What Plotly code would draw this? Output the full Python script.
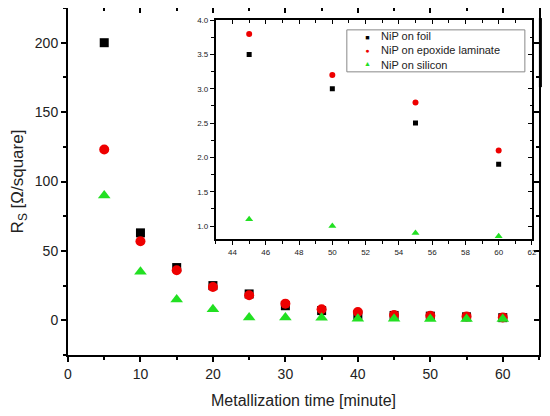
import plotly.graph_objects as go

# metallization time [minute]
time_main = [5, 10, 15, 20, 25, 30, 35, 40, 45, 50, 55, 60]
foil_main = [200, 63, 38, 25, 19, 10.5, 7, 3.8, 3.5, 3.0, 2.5, 1.9]
epoxide_main = [123, 57, 36, 24, 18, 12, 8, 6, 3.8, 3.2, 2.8, 2.1]
silicon_main = [90, 35, 15, 8, 2, 2, 1.8, 1.2, 1.1, 1.0, 0.9, 0.85]

# zoomed inset values
time_inset = [45, 50, 55, 60]
foil_inset = [3.5, 3.0, 2.5, 1.9]
epoxide_inset = [3.8, 3.2, 2.8, 2.1]
silicon_inset = [1.1, 1.0, 0.9, 0.85]

names = ["NiP on foil", "NiP on epoxide laminate", "NiP on silicon"]
colors = ["#000000", "#ee0000", "#22e022"]
symbols = ["square", "circle", "triangle-up"]
legend_glyphs = ["■", "●", "▲"]

fig = go.Figure()

main_series = [foil_main, epoxide_main, silicon_main]
for vals, name, col, sym, sz in zip(main_series, names, colors, symbols, [9, 10, 11]):
    fig.add_trace(go.Scatter(
        x=time_main, y=vals, mode="markers", name=name, showlegend=False,
        marker=dict(symbol=sym, color=col, size=sz),
        xaxis="x", yaxis="y"
    ))

inset_series = [foil_inset, epoxide_inset, silicon_inset]
for vals, name, col, sym, sz in zip(inset_series, names, colors, symbols, [5, 6, 7]):
    fig.add_trace(go.Scatter(
        x=time_inset, y=vals, mode="markers", name=name, showlegend=False,
        marker=dict(symbol=sym, color=col, size=sz),
        xaxis="x2", yaxis="y2"
    ))

# empty traces so the top/right frame axes get drawn
fig.add_trace(go.Scatter(x=[], y=[], xaxis="x3", yaxis="y3", showlegend=False, hoverinfo="skip"))
fig.add_trace(go.Scatter(x=[], y=[], xaxis="x4", yaxis="y4", showlegend=False, hoverinfo="skip"))

line = dict(showline=True, linecolor="#000000", linewidth=2,
            showgrid=False, zeroline=False, automargin=False)
tickfont_main = dict(family="Arial, Liberation Sans", size=14, color="#222")
tickfont_inset = dict(family="Arial, Liberation Sans", size=8, color="#222")


def ticks(direction, major, minor, length, width):
    return dict(dtick=major, ticks=direction, ticklen=length, tickwidth=width, tickcolor="#000000",
                minor=dict(dtick=minor, ticks=direction, ticklen=length * 0.6,
                           tickwidth=width, tickcolor="#000000"))


# the page body adds an 8px offset, so the figure is sized to fit after it
fig.update_layout(
    width=542, height=408,
    margin=dict(l=60, r=11, t=0, b=61),
    paper_bgcolor="white", plot_bgcolor="white",
    font=dict(family="Arial, Liberation Sans", color="#222"),
    showlegend=False,
    xaxis=dict(
        range=[0, 65], tickfont=tickfont_main,
        title=dict(text="Metallization time [minute]", font=dict(size=16), standoff=14),
        **ticks("outside", 10, 5, 5, 1.5), **line
    ),
    yaxis=dict(
        range=[-25, 225], tickfont=tickfont_main,
        title=dict(text="R<sub>S</sub> [Ω/square]", font=dict(size=17), standoff=8),
        **ticks("outside", 50, 25, 5, 1.5), **line
    ),
    xaxis3=dict(
        overlaying="x", side="top", anchor="y3", range=[0, 65], showticklabels=False,
        **ticks("inside", 10, 5, 5, 1.5), **line
    ),
    yaxis3=dict(
        overlaying="y", side="right", anchor="x3", range=[-25, 225], showticklabels=False,
        **ticks("inside", 50, 25, 5, 1.5), **line
    ),
    xaxis2=dict(
        domain=[0.314, 0.985], anchor="y2", range=[43, 62], tickfont=tickfont_inset,
        **ticks("outside", 2, 1, 4, 1.2), **line
    ),
    yaxis2=dict(
        domain=[0.334, 0.965], anchor="x2", range=[0.81, 4.0], tickformat=".1f",
        tickfont=tickfont_inset,
        **ticks("outside", 0.5, 0.25, 4, 1.2), **line
    ),
    xaxis4=dict(
        domain=[0.314, 0.985], overlaying="x2", side="top", anchor="y4", range=[43, 62],
        showticklabels=False, **ticks("inside", 2, 1, 4, 1.2), **line
    ),
    yaxis4=dict(
        domain=[0.334, 0.965], overlaying="y2", side="right", anchor="x4", range=[0.81, 4.0],
        showticklabels=False, **ticks("inside", 0.5, 0.25, 4, 1.2), **line
    ),
)

# thick dark stroke on the outer right border, as in the scanned figure
fig.add_shape(type="line", xref="paper", yref="paper",
              x0=1.003, x1=1.003, y0=0.772, y1=0.971,
              line=dict(color="#000000", width=3))

# legend box inside the inset
fig.add_shape(type="rect", xref="paper", yref="paper",
              x0=0.592, x1=0.970, y0=0.816, y1=0.937,
              line=dict(color="#888", width=1), fillcolor="white", layer="above")
glyph_text = "<br>".join(
    f"<span style='color:{c};font-size:7px'>{g}</span>" for g, c in zip(legend_glyphs, colors))
fig.add_annotation(xref="paper", yref="paper", x=0.635, y=0.8765,
                   xanchor="center", yanchor="middle", showarrow=False,
                   text=glyph_text, font=dict(size=10))
fig.add_annotation(xref="paper", yref="paper", x=0.660, y=0.8765,
                   xanchor="left", yanchor="middle", showarrow=False, align="left",
                   text="<br>".join(names), font=dict(size=11, color="#222"))

fig.write_html("out.html")
